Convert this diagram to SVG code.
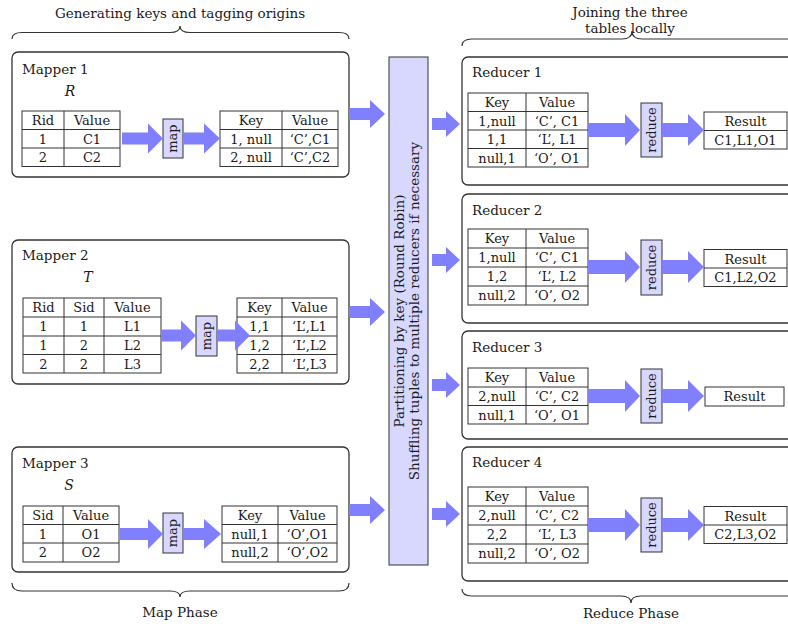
<svg xmlns="http://www.w3.org/2000/svg" width="788" height="624" viewBox="0 0 788 624">
<style>
text{font-family:"DejaVu Serif","Liberation Serif",serif;fill:#1a1a1a}
.t{font-size:13px;text-anchor:middle}
.lbl{font-size:13.5px}
.ttl{font-size:13.5px;text-anchor:middle}
.it{font-size:14px;font-style:italic}
.box{fill:#fff;stroke:#333;stroke-width:1.3}
.tbl{fill:#fff;stroke:#333;stroke-width:1}
.ln{fill:none;stroke:#333;stroke-width:1}
.arw{fill:#8080ff}
.op{fill:#d8d8ff;stroke:#333;stroke-width:1}
.brace{fill:none;stroke:#333;stroke-width:1.2}
</style>
<rect width="788" height="624" fill="#fff"/>

<g id="annotations">
<text class="ttl" x="180" y="18">Generating keys and tagging origins</text>
<path class="brace" d="M12,39 Q12,32.5 22,32.5 L170,32.5 Q180,32.5 180,26 Q180,32.5 190,32.5 L339,32.5 Q349,32.5 349,39"/>
<text class="ttl" x="630" y="17">Joining the three</text>
<text class="ttl" x="630" y="33">tables locally</text>
<path class="brace" d="M462,46 Q462,39 472,39 L622,39 Q632,39 632,31 Q632,39 642,39 L800,39"/>
<path class="brace" d="M12,583 Q12,591 22,591 L170,591 Q180,591 180,597 Q180,591 190,591 L339,591 Q349,591 349,583"/>
<text class="ttl" x="180" y="617">Map Phase</text>
<path class="brace" d="M462,589 Q462,596 472,596 L621,596 Q631,596 631,603 Q631,596 641,596 L800,596"/>
<text class="ttl" x="631" y="618">Reduce Phase</text>
</g>

<g id="mapper1">
<rect class="box" x="12" y="52" width="337" height="125" rx="6"/>
<text class="lbl" x="22" y="74">Mapper 1</text>
<text class="it" x="70" y="96" text-anchor="middle">R</text>
<rect class="tbl" x="22" y="111" width="98" height="55.5"/>
<path class="ln" d="M22,129.5H120M22,148H120M64,111V166.5"/>
<text class="t" x="43" y="125">Rid</text><text class="t" x="92" y="125">Value</text>
<text class="t" x="43" y="143.5">1</text><text class="t" x="92" y="143.5">C1</text>
<text class="t" x="43" y="162">2</text><text class="t" x="92" y="162">C2</text>
<rect class="op" x="163" y="119" width="20" height="39"/>
<text class="t" transform="translate(173,138.5) rotate(-90)" y="4">map</text>
<rect class="tbl" x="220" y="111" width="118" height="55.5"/>
<path class="ln" d="M220,129.5H338M220,148H338M282,111V166.5"/>
<text class="t" x="251" y="125">Key</text><text class="t" x="310" y="125">Value</text>
<text class="t" x="251" y="143.5">1, null</text><text class="t" x="310" y="143.5">‘C’,C1</text>
<text class="t" x="251" y="162">2, null</text><text class="t" x="310" y="162">‘C’,C2</text>
</g>

<g id="mapper2">
<rect class="box" x="12" y="240" width="337" height="144" rx="6"/>
<text class="lbl" x="22" y="260">Mapper 2</text>
<text class="it" x="88" y="282" text-anchor="middle">T</text>
<rect class="tbl" x="23" y="298" width="138" height="75"/>
<path class="ln" d="M23,317H161M23,336H161M23,354.5H161M64,298V373M104,298V373"/>
<text class="t" x="43.5" y="312">Rid</text><text class="t" x="84" y="312">Sid</text><text class="t" x="132.5" y="312">Value</text>
<text class="t" x="43.5" y="331">1</text><text class="t" x="84" y="331">1</text><text class="t" x="132.5" y="331">L1</text>
<text class="t" x="43.5" y="350">1</text><text class="t" x="84" y="350">2</text><text class="t" x="132.5" y="350">L2</text>
<text class="t" x="43.5" y="368.5">2</text><text class="t" x="84" y="368.5">2</text><text class="t" x="132.5" y="368.5">L3</text>
<rect class="op" x="196" y="316" width="21" height="40"/>
<text class="t" transform="translate(206.5,336) rotate(-90)" y="4">map</text>
<rect class="tbl" x="237" y="298" width="100" height="75"/>
<path class="ln" d="M237,317H337M237,336H337M237,354.5H337M282,298V373"/>
<text class="t" x="259.5" y="312">Key</text><text class="t" x="309.5" y="312">Value</text>
<text class="t" x="259.5" y="331">1,1</text><text class="t" x="309.5" y="331">‘L’,L1</text>
<text class="t" x="259.5" y="350">1,2</text><text class="t" x="309.5" y="350">‘L’,L2</text>
<text class="t" x="259.5" y="368.5">2,2</text><text class="t" x="309.5" y="368.5">‘L’,L3</text>
</g>

<g id="mapper3">
<rect class="box" x="12" y="447" width="337" height="125" rx="6"/>
<text class="lbl" x="22" y="468">Mapper 3</text>
<text class="it" x="69" y="490" text-anchor="middle">S</text>
<rect class="tbl" x="23" y="506" width="96" height="56"/>
<path class="ln" d="M23,524.5H119M23,543H119M63,506V562"/>
<text class="t" x="43" y="520">Sid</text><text class="t" x="91" y="520">Value</text>
<text class="t" x="43" y="538.5">1</text><text class="t" x="91" y="538.5">O1</text>
<text class="t" x="43" y="557">2</text><text class="t" x="91" y="557">O2</text>
<rect class="op" x="163" y="513" width="20" height="40"/>
<text class="t" transform="translate(173,533) rotate(-90)" y="4">map</text>
<rect class="tbl" x="222" y="506" width="115" height="56"/>
<path class="ln" d="M222,524.5H337M222,543H337M278,506V562"/>
<text class="t" x="250" y="520">Key</text><text class="t" x="307.5" y="520">Value</text>
<text class="t" x="250" y="538.5">null,1</text><text class="t" x="307.5" y="538.5">‘O’,O1</text>
<text class="t" x="250" y="557">null,2</text><text class="t" x="307.5" y="557">‘O’,O2</text>
</g>

<g id="shuffle">
<rect class="op" x="389" y="57" width="39" height="508"/>
<g transform="translate(408.5,311) rotate(-90)">
<text class="ttl" x="0" y="-4.5">Partitioning by key (Round Robin)</text>
<text class="ttl" x="0" y="10.5">Shuffling tuples to multiple reducers if necessary</text>
</g>
</g>

<g id="reducer1">
<rect class="box" x="462" y="57" width="340" height="128" rx="6"/>
<text class="lbl" x="472" y="77">Reducer 1</text>
<rect class="tbl" x="468" y="93" width="120" height="74"/>
<path class="ln" d="M468,111.5H588M468,130H588M468,148.5H588M526,93V167"/>
<text class="t" x="497" y="107">Key</text><text class="t" x="557" y="107">Value</text>
<text class="t" x="497" y="125.5">1,null</text><text class="t" x="557" y="125.5">‘C’, C1</text>
<text class="t" x="497" y="144">1,1</text><text class="t" x="557" y="144">‘L’, L1</text>
<text class="t" x="497" y="162.5">null,1</text><text class="t" x="557" y="162.5">‘O’, O1</text>
<rect class="op" x="641" y="103" width="21" height="54"/>
<text class="t" transform="translate(651.5,130) rotate(-90)" y="4.5">reduce</text>
<rect class="tbl" x="704" y="112" width="83" height="37"/>
<path class="ln" d="M704,130.5H787"/>
<text class="t" x="745.5" y="126">Result</text>
<text class="t" x="745.5" y="144.5">C1,L1,O1</text>
</g>

<g id="reducer2">
<rect class="box" x="462" y="194" width="340" height="129" rx="6"/>
<text class="lbl" x="472" y="215">Reducer 2</text>
<rect class="tbl" x="468" y="229" width="120" height="76"/>
<path class="ln" d="M468,248H588M468,267H588M468,286H588M526,229V305"/>
<text class="t" x="497" y="243">Key</text><text class="t" x="557" y="243">Value</text>
<text class="t" x="497" y="262">1,null</text><text class="t" x="557" y="262">‘C’, C1</text>
<text class="t" x="497" y="281">1,2</text><text class="t" x="557" y="281">‘L’, L2</text>
<text class="t" x="497" y="300">null,2</text><text class="t" x="557" y="300">‘O’, O2</text>
<rect class="op" x="641" y="240" width="21" height="55"/>
<text class="t" transform="translate(651.5,267.5) rotate(-90)" y="4.5">reduce</text>
<rect class="tbl" x="704" y="249.5" width="83" height="37"/>
<path class="ln" d="M704,268H787"/>
<text class="t" x="745.5" y="263.5">Result</text>
<text class="t" x="745.5" y="282">C1,L2,O2</text>
</g>

<g id="reducer3">
<rect class="box" x="462" y="331" width="340" height="108" rx="6"/>
<text class="lbl" x="472" y="352">Reducer 3</text>
<rect class="tbl" x="468" y="368" width="120" height="56"/>
<path class="ln" d="M468,387H588M468,405.5H588M526,368V424"/>
<text class="t" x="497" y="382">Key</text><text class="t" x="557" y="382">Value</text>
<text class="t" x="497" y="401">2,null</text><text class="t" x="557" y="401">‘C’, C2</text>
<text class="t" x="497" y="419.5">null,1</text><text class="t" x="557" y="419.5">‘O’, O1</text>
<rect class="op" x="641" y="369" width="21" height="54"/>
<text class="t" transform="translate(651.5,396) rotate(-90)" y="4.5">reduce</text>
<rect class="tbl" x="705" y="387" width="79" height="19"/>
<text class="t" x="744.5" y="401">Result</text>
</g>

<g id="reducer4">
<rect class="box" x="462" y="447" width="340" height="134" rx="6"/>
<text class="lbl" x="472" y="467">Reducer 4</text>
<rect class="tbl" x="468" y="487" width="120" height="76"/>
<path class="ln" d="M468,506H588M468,525H588M468,544H588M526,487V563"/>
<text class="t" x="497" y="501">Key</text><text class="t" x="557" y="501">Value</text>
<text class="t" x="497" y="520">2,null</text><text class="t" x="557" y="520">‘C’, C2</text>
<text class="t" x="497" y="539">2,2</text><text class="t" x="557" y="539">‘L’, L3</text>
<text class="t" x="497" y="558">null,2</text><text class="t" x="557" y="558">‘O’, O2</text>
<rect class="op" x="641" y="498" width="21" height="54"/>
<text class="t" transform="translate(651.5,525) rotate(-90)" y="4.5">reduce</text>
<rect class="tbl" x="704" y="506.5" width="83" height="37"/>
<path class="ln" d="M704,525H787"/>
<text class="t" x="745.5" y="520.5">Result</text>
<text class="t" x="745.5" y="539">C2,L3,O2</text>
</g>

<g id="connectors">
<polygon class="arw" points="122,132.5 148,132.5 148,123.5 163,138.5 148,153.5 148,144.5 122,144.5"/>
<polygon class="arw" points="183,132.5 204,132.5 204,123.5 220,138.5 204,153.5 204,144.5 183,144.5"/>
<polygon class="arw" points="161,329.5 181,329.5 181,320.5 196,335.5 181,350.5 181,341.5 161,341.5"/>
<polygon class="arw" points="217,329.5 235,329.5 235,320.5 250,335.5 235,350.5 235,341.5 217,341.5"/>
<polygon class="arw" points="120,528 148,528 148,519 163,534 148,549 148,540 120,540"/>
<polygon class="arw" points="183,528 204,528 204,519 221,534 204,549 204,540 183,540"/>
<polygon class="arw" points="349,108 370,108 370,100 385,114 370,128 370,120 349,120"/>
<polygon class="arw" points="349,306 370,306 370,298 385,312 370,326 370,318 349,318"/>
<polygon class="arw" points="349,504 370,504 370,496 385,510 370,524 370,516 349,516"/>
<polygon class="arw" points="432,118 446,118 446,111 460,124 446,137 446,130 432,130"/>
<polygon class="arw" points="432,254 446,254 446,247 460,260 446,273 446,266 432,266"/>
<polygon class="arw" points="432,379 446,379 446,372 460,385 446,398 446,391 432,391"/>
<polygon class="arw" points="432,508 446,508 446,501 460,514 446,527 446,520 432,520"/>
<polygon class="arw" points="588,123 625,123 625,114 640,130 625,146 625,137 588,137"/>
<polygon class="arw" points="662,123 688,123 688,114 704,130 688,146 688,137 662,137"/>
<polygon class="arw" points="588,260 625,260 625,251 640,267 625,283 625,274 588,274"/>
<polygon class="arw" points="662,260 688,260 688,251 704,267 688,283 688,274 662,274"/>
<polygon class="arw" points="588,389 625,389 625,380 640,396 625,412 625,403 588,403"/>
<polygon class="arw" points="662,389 688,389 688,380 704,396 688,412 688,403 662,403"/>
<polygon class="arw" points="588,518 625,518 625,509 640,525 625,541 625,532 588,532"/>
<polygon class="arw" points="662,518 688,518 688,509 704,525 688,541 688,532 662,532"/>
</g>
</svg>
